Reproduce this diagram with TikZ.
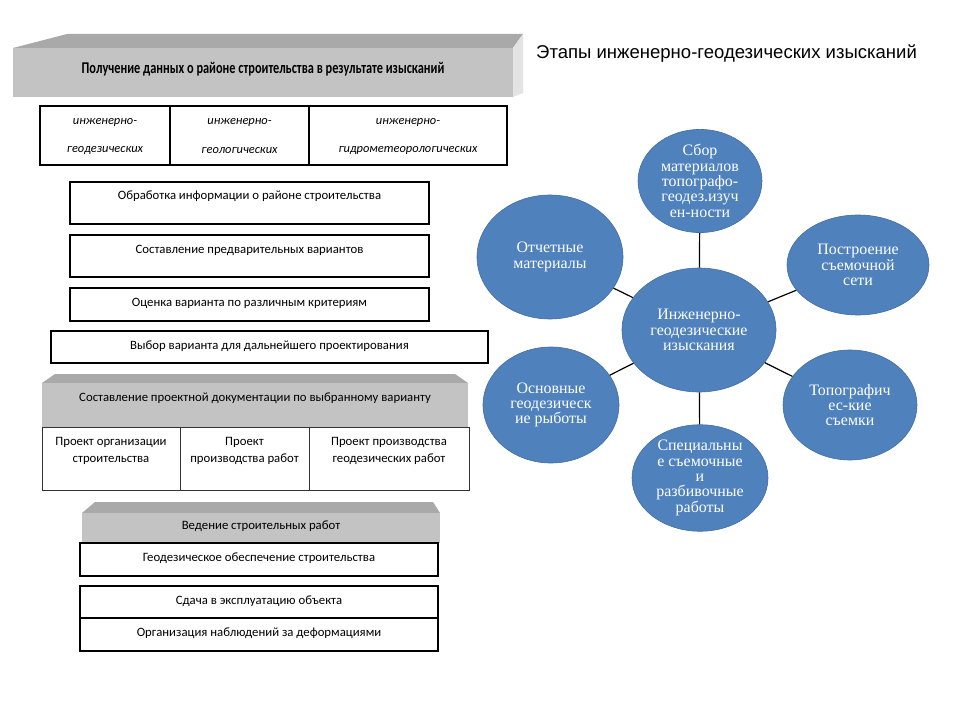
\documentclass[tikz,border=0pt]{standalone}
\usepackage{fontspec}
\setmainfont{Carlito}
\newfontfamily\blobfont{Liberation Serif}
\newfontfamily\titlefont{Liberation Sans}
\newfontfamily\condfont[FakeStretch=0.75]{Carlito}
\usetikzlibrary{shapes.geometric}
\definecolor{blobblue}{HTML}{4F81BD}
\definecolor{facetop}{HTML}{A9A9A9}
\definecolor{facefront}{HTML}{C3C3C3}
\definecolor{faceside}{HTML}{E3E3E3}
\tikzset{box text/.style={font=\fontsize{12.8}{14}\selectfont,inner sep=0pt},
	italic text/.style={font=\itshape\fontsize{12.5}{14}\selectfont,inner sep=0pt},
	heavy frame/.style={draw=black,line width=1.8bp},
	light frame/.style={draw=black!80,line width=0.9bp},
	blob/.style={ellipse,fill=blobblue,draw=blobblue!85!black,line width=0.6bp,inner sep=0pt,
		text=white,align=center,font=\blobfont\fontsize{16}{15.4}\selectfont},
	link/.style={draw=black,line width=1.2bp}}

\begin{document}
\begin{tikzpicture}[x=1bp,y=-1bp]
	\useasboundingbox (0,0) rectangle (960,720);
	% first block
	\fill[facetop] (13,48) -- (67,34) -- (523,34) -- (513,48) -- cycle;
	\fill[faceside] (513,48) -- (523,34) -- (523,93) -- (513,97) -- cycle;
	\fill[facefront] (13,48) rectangle (513,97);
	\node[font=\condfont\bfseries\fontsize{16.5}{18}\selectfont,inner sep=0pt] (poluch) at (263,69) {Получение данных о районе строительства в результате изысканий};
	\draw[heavy frame] (40,106) rectangle (507,165) (170,106) -- (170,165) (309,106) -- (309,165);
	\node[italic text] (ig1) at (105,122) {инженерно-};
	\node[italic text] (ig2) at (105,151) {геодезических};
	\node[italic text] (igl1) at (239.5,122) {инженерно-};
	\node[italic text] (igl2) at (239.5,151) {геологических};
	\node[italic text] (igm1) at (408,122) {инженерно-};
	\node[italic text] (igm2) at (408,151) {гидрометеорологических};
	% processing steps
	\draw[heavy frame] (70,182) rectangle (429,224);
	\node[box text] (obrab) at (249.5,196) {Обработка информации о районе строительства};
	\draw[heavy frame] (70,235) rectangle (429,277);
	\node[box text] (sostav) at (249.5,250) {Составление предварительных вариантов};
	\draw[heavy frame] (70,288) rectangle (429,321);
	\node[box text] (ocenka) at (249.5,303) {Оценка варианта по различным критериям};
	\draw[heavy frame] (51,331) rectangle (488,363);
	\node[box text] (vybor) at (269.5,346) {Выбор варианта для дальнейшего проектирования};
	% project documents
	\fill[facetop] (42,383) -- (55,374) -- (455,374) -- (468,383) -- cycle;
	\fill[facefront] (42,383) rectangle (468,427);
	\node[box text] (proekt) at (255,398) {Составление проектной документации по выбранному варианту};
	\draw[light frame] (42,427) rectangle (469,490) (180,427) -- (180,490) (309,427) -- (309,490);
	\node[box text,align=center] (pos) at (111,450.5) {Проект организации\\[3bp]строительства};
	\node[box text,align=center] (ppr) at (244.5,450.5) {Проект\\[3bp]производства работ};
	\node[box text,align=center] (ppgr) at (389,450.5) {Проект производства\\[3bp]геодезических работ};
	% construction
	\fill[facetop] (82,513) -- (95,502) -- (433,502) -- (440,513) -- cycle;
	\fill[facefront] (82,513) rectangle (440,543);
	\node[box text] (veden) at (261,526) {Ведение строительных работ};
	\draw[heavy frame] (80,543) rectangle (438,576);
	\node[box text] (geoobesp) at (259,558) {Геодезическое обеспечение строительства};
	\draw[heavy frame] (80,586) rectangle (438,651) (80,618) -- (438,618);
	\node[box text] (sdacha) at (259,601) {Сдача в эксплуатацию объекта};
	\node[box text] (nabl) at (259,633) {Организация наблюдений за деформациями};
	% survey stages
	\node[font=\titlefont\fontsize{18.6}{21}\selectfont,anchor=west,inner sep=0pt] (etapy) at (536,54) {Этапы инженерно-геодезических изысканий};
	\node[blob,minimum width=154bp,minimum height=124bp] (izysk) at (699,330) {Инженерно-\\геодезические\\изыскания};
	\node[blob,minimum width=124bp,minimum height=102bp] (sbor) at (700,181) {Сбор\\материалов\\топографо-\\геодез.изуч\\ен-ности};
	\node[blob,minimum width=146bp,minimum height=124bp] (otchet) at (550,257) {Отчетные\\материалы};
	\node[blob,minimum width=142bp,minimum height=100bp] (postr) at (858,265) {Построение\\съемочной\\сети};
	\node[blob,minimum width=136bp,minimum height=116bp] (osnov) at (551,405) {Основные\\геодезическ\\ие рыботы};
	\node[blob,minimum width=134bp,minimum height=110bp] (topo) at (850,405) {Топографич\\ес-кие\\съемки};
	\node[blob,minimum width=136bp,minimum height=106bp] (spec) at (700,478) {Специальны\\е съемочные\\и\\разбивочные\\работы};
	\foreach \n in {sbor,otchet,postr,osnov,topo,spec}
		\draw[link] (izysk) -- (\n);
\end{tikzpicture}
\end{document}
